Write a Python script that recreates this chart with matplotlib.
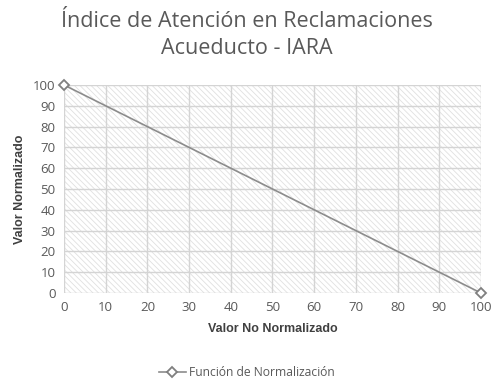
import matplotlib
matplotlib.use("Agg")
from matplotlib import pyplot as plt
from matplotlib.patches import Rectangle

# data: normalisation function
x_vals = [0, 100]
y_vals = [100, 0]
x_ticks = [0, 10, 20, 30, 40, 50, 60, 70, 80, 90, 100]
y_ticks = [0, 10, 20, 30, 40, 50, 60, 70, 80, 90, 100]

plt.rcParams['font.family'] = ['Open Sans', 'DejaVu Sans']
plt.rcParams['hatch.color'] = '#d6d6d6'
plt.rcParams['hatch.linewidth'] = 0.6

fig = plt.figure(figsize=(4.94, 3.84), dpi=100)
ax = fig.add_axes([0.1296, 0.237, 0.844, 0.5416])

# hatched background
ax.add_patch(Rectangle((0, 0), 1, 1, transform=ax.transAxes, facecolor='white',
                       edgecolor='#e0e0e0', hatch='\\\\\\\\\\\\', linewidth=0, zorder=0))

ax.plot(x_vals, y_vals, color='#8c8c8c', linewidth=1.2, marker='D', markersize=5,
        markerfacecolor='white', markeredgecolor='#7f7f7f', markeredgewidth=1.3,
        label='Función de Normalización', zorder=3, clip_on=False)

ax.set_xlim(0, 100)
ax.set_ylim(0, 100)
ax.set_xticks(x_ticks)
ax.set_yticks(y_ticks)
ax.grid(True, color='#d4d4d4', linewidth=1.0, zorder=1)
ax.set_axisbelow(True)
for s in ax.spines.values():
    s.set_visible(False)
ax.tick_params(length=0, labelsize=9.5, colors='#595959', pad=6)

ax.set_xlabel('Valor No Normalizado', fontsize=9, fontweight='bold', color='#404040',
              family=['Liberation Sans'], labelpad=6)
ax.set_ylabel('Valor Normalizado', fontsize=9, fontweight='bold', color='#404040',
              family=['Liberation Sans'], labelpad=5)

fig.text(0.5, 0.945, 'Índice de Atención en Reclamaciones', ha='center', va='center',
         fontsize=15.5, color='#595959')
fig.text(0.5, 0.873, 'Acueducto - IARA', ha='center', va='center',
         fontsize=15.5, color='#595959')

fig.legend(loc='center', bbox_to_anchor=(0.5, 0.03), frameon=False, fontsize=8.7,
           labelcolor='#595959', handlelength=2.2, handletextpad=0.3)

fig.savefig('out.png', dpi=100)
